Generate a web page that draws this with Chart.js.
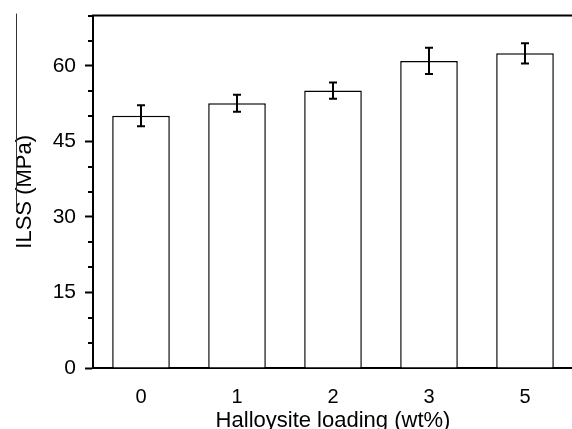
<!DOCTYPE html>
<html>
<head>
<meta charset="utf-8">
<script src="https://cdn.jsdelivr.net/npm/chart.js@4.4.1/dist/chart.umd.min.js"></script>
<style>
  html, body { margin: 0; padding: 0; background: #fff; overflow: hidden; }
  #wrap { width: 574px; height: 440px; margin-top: -6px; position: relative; }
</style>
</head>
<body>
<div id="wrap"><canvas id="myChart"></canvas></div>
<script>
/* Data */
const loadings = ['0', '1', '2', '3', '5'];
const ilss = [50.1, 52.6, 55.1, 61.0, 62.5];
const ilssErr = [2.1, 1.7, 1.6, 2.6, 2.0];
const yTicks = [0, 15, 30, 45, 60];

const FONT = 'Liberation Sans, Arial, Helvetica, sans-serif';

/* error bars, minor ticks, top frame line */
const extras = {
  id: 'extras',
  afterDatasetsDraw(chart) {
    const ctx = chart.ctx;
    const y = chart.scales.y;
    const meta = chart.getDatasetMeta(0);
    ctx.save();
    ctx.strokeStyle = '#000';
    ctx.lineWidth = 2;
    meta.data.forEach(function (bar, i) {
      const top = y.getPixelForValue(ilss[i] + ilssErr[i]);
      const bot = y.getPixelForValue(ilss[i] - ilssErr[i]);
      ctx.beginPath();
      ctx.moveTo(bar.x, top);
      ctx.lineTo(bar.x, bot);
      ctx.moveTo(bar.x - 4, top);
      ctx.lineTo(bar.x + 4, top);
      ctx.moveTo(bar.x - 4, bot);
      ctx.lineTo(bar.x + 4, bot);
      ctx.stroke();
    });
    ctx.restore();
  },
  afterDraw(chart) {
    const ctx = chart.ctx;
    const area = chart.chartArea;
    const y = chart.scales.y;
    ctx.save();
    ctx.strokeStyle = '#000';
    ctx.lineWidth = 2;
    // minor ticks
    y.ticks.forEach(function (t) {
      if (yTicks.indexOf(t.value) === -1) {
        const py = Math.round(y.getPixelForValue(t.value));
        ctx.beginPath();
        ctx.moveTo(area.left - 5, py);
        ctx.lineTo(area.left, py);
        ctx.stroke();
      }
    });
    // top frame
    ctx.beginPath();
    ctx.moveTo(area.left - 1, area.top);
    ctx.lineTo(area.right, area.top);
    ctx.stroke();
    // thin crop line at left edge
    ctx.lineWidth = 1;
    ctx.strokeStyle = '#333';
    ctx.beginPath();
    ctx.moveTo(16.5, area.top - 2);
    ctx.lineTo(16.5, y.getPixelForValue(31));
    ctx.stroke();
    ctx.restore();
  }
};

const ctx = document.getElementById('myChart').getContext('2d');

// eslint-disable-next-line no-undef
const chart = new Chart(ctx, {
  type: 'bar',
  data: {
    labels: loadings,
    datasets: [{
      label: 'ILSS',
      data: ilss,
      backgroundColor: '#ffffff',
      borderColor: '#000000',
      borderWidth: 1.5,
      barPercentage: 0.6,
      categoryPercentage: 1.0,
    }]
  },
  options: {
    responsive: true,
    maintainAspectRatio: false,
    animation: false,
    layout: { padding: { left: 0, top: 8, right: 1, bottom: 0 } },
    plugins: {
      legend: { display: false },
      tooltip: { enabled: false },
    },
    scales: {
      x: {
        grid: { display: false },
        border: { display: true, color: '#000', width: 2 },
        ticks: {
          color: '#000',
          padding: 9,
          font: { family: FONT, size: 20 },
        },
        title: {
          display: true,
          text: 'Halloysite loading (wt%)',
          color: '#000',
          padding: { top: 0, bottom: 0 },
          font: { family: FONT, size: 22 },
        },
        afterFit(scale) { scale.height = 66; },
      },
      y: {
        min: 0,
        max: 70,
        grid: {
          drawOnChartArea: false,
          tickLength: 8,
          tickWidth: 2,
          tickColor: function (c) {
            return yTicks.indexOf(c.tick.value) === -1 ? 'rgba(0,0,0,0)' : '#000';
          },
        },
        border: { display: true, color: '#000', width: 2 },
        ticks: {
          stepSize: 5,
          autoSkip: false,
          color: '#000',
          padding: 9,
          font: { family: FONT, size: 21 },
          callback: function (v) {
            return yTicks.indexOf(v) === -1 ? '' : String(v);
          },
        },
        title: {
          display: true,
          text: 'ILSS (MPa)',
          color: '#000',
          padding: { top: 12, bottom: 0 },
          font: { family: FONT, size: 22 },
        },
        afterFit(scale) { scale.width = 93; },
      }
    }
  },
  plugins: [extras]
});
</script>
</body>
</html>
